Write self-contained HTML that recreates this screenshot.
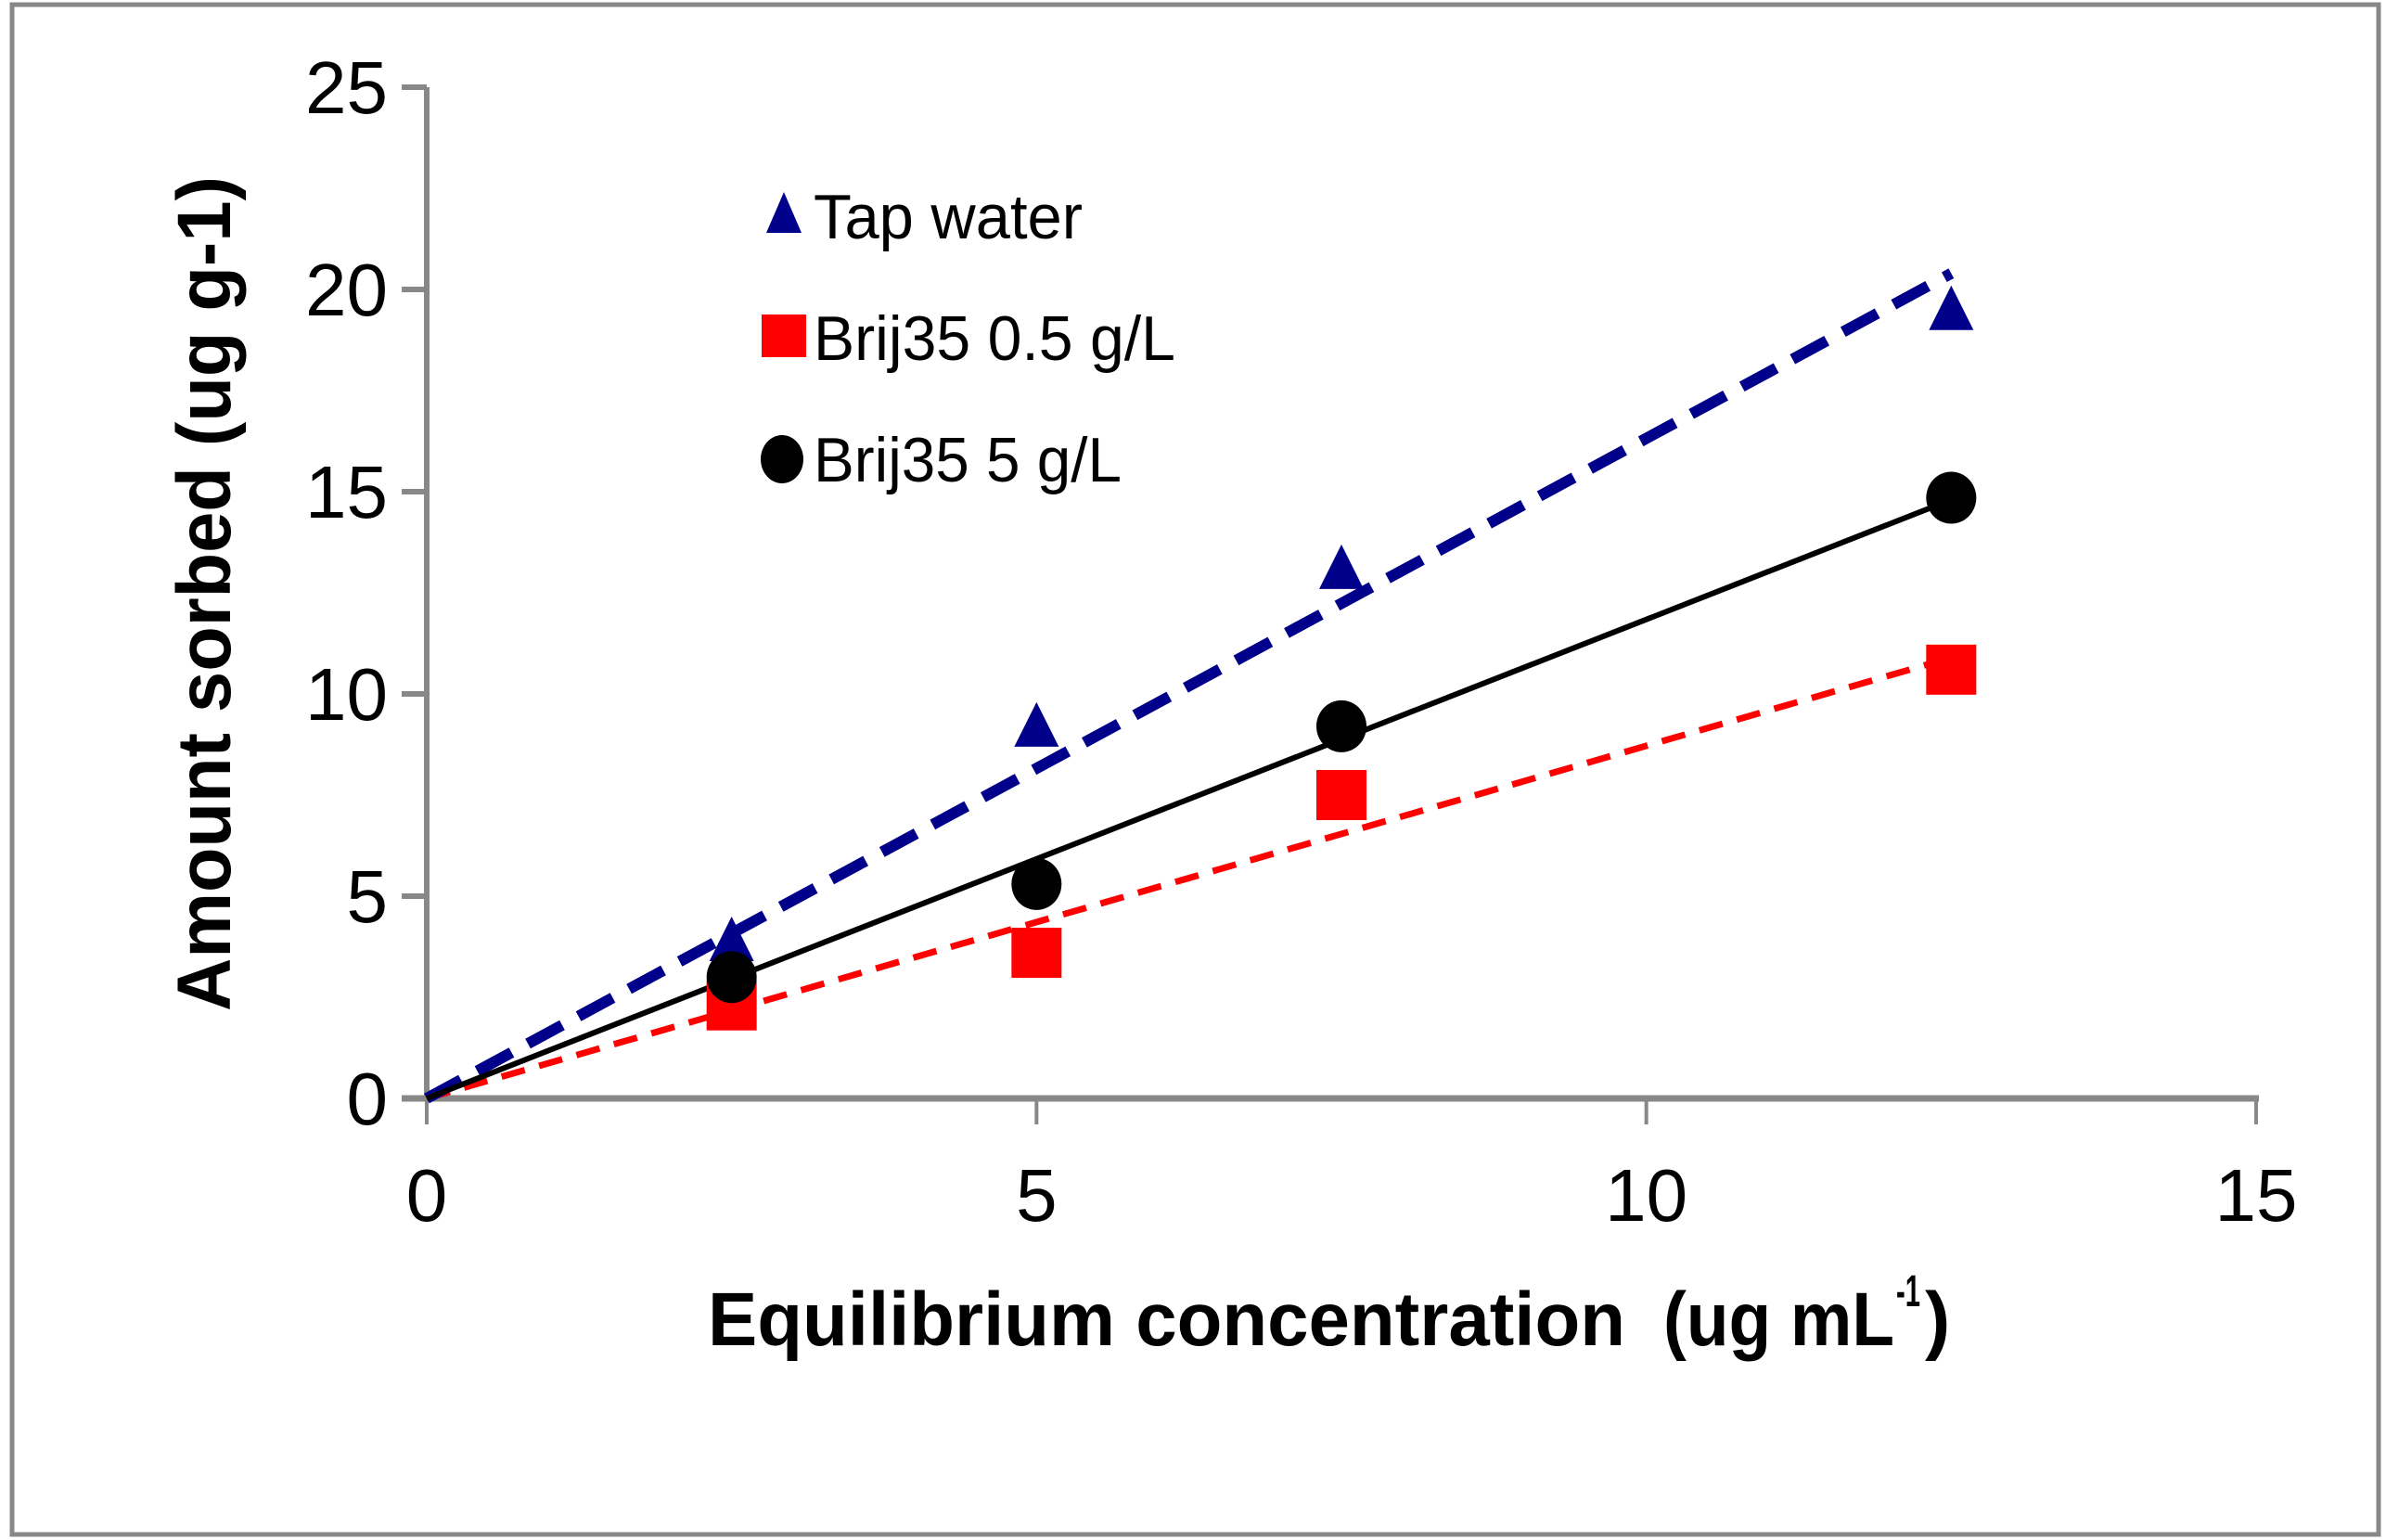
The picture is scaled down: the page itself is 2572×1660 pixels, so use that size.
<!DOCTYPE html>
<html><head><meta charset="utf-8"><style>
html,body{margin:0;padding:0;background:#fff;}
svg{display:block;font-family:"Liberation Sans",sans-serif;}
</style></head><body>
<svg id="chart" width="2572" height="1660" viewBox="0 0 2572 1660">
<rect x="13" y="5" width="2551" height="1649" fill="#fff" stroke="#888" stroke-width="5"/>
<g id="axes"></g>
<g id="series"></g>
<g id="legend">
  <polygon points="845,207 826,251 864,251" fill="#00008b"/>
  <text x="877" y="257" font-size="68" font-family="'Liberation Sans Narrow','Liberation Sans',sans-serif" textLength="290" lengthAdjust="spacingAndGlyphs">Tap water</text>
  <rect x="821" y="339" width="48" height="46" fill="#f00"/>
  <text x="877" y="388" font-size="68" font-family="'Liberation Sans Narrow','Liberation Sans',sans-serif" textLength="390" lengthAdjust="spacingAndGlyphs">Brij35 0.5 g/L</text>
  <ellipse cx="843" cy="495" rx="23" ry="26" fill="#000"/>
  <text x="877" y="519" font-size="68" font-family="'Liberation Sans Narrow','Liberation Sans',sans-serif" textLength="332" lengthAdjust="spacingAndGlyphs">Brij35 5 g/L</text>
</g>
<text transform="translate(248,640) rotate(-90)" text-anchor="middle" font-size="82" font-weight="bold" textLength="900" lengthAdjust="spacingAndGlyphs">Amount sorbed (ug g-1)</text>
<g font-family="'Liberation Sans Narrow','Liberation Sans',sans-serif" font-weight="bold">
  <text x="763" y="1450" font-size="82" textLength="989" lengthAdjust="spacingAndGlyphs">Equilibrium concentration</text>
  <text x="1793" y="1450" font-size="82" textLength="249" lengthAdjust="spacingAndGlyphs">(ug mL</text>
  <text x="2044" y="1408" font-size="48" textLength="26" lengthAdjust="spacingAndGlyphs">-1</text>
  <text x="2075" y="1450" font-size="82">)</text>
</g>
</svg>
<script>
const xTicks = [0, 5, 10, 15];
const yTicks = [0, 5, 10, 15, 20, 25];
const xVals = [2.5, 5, 7.5, 12.5];
const tapWater = [3.9, 9.2, 13.1, 19.5];
const brijLow = [2.3, 3.6, 7.5, 10.6];
const brijHigh = [3.0, 5.3, 9.2, 14.85];
const trendEnd = 12.5;

const NS = "http://www.w3.org/2000/svg";
const X0 = 460, X1 = 2432, Y0 = 1184, Y1 = 94;
function sx(v){ return X0 + (v - 0) / 15 * (X1 - X0); }
function sy(v){ return Y0 - (v - 0) / 25 * (Y0 - Y1); }
function mk(tag, attrs, parent){
  const e = document.createElementNS(NS, tag);
  for (const k in attrs) e.setAttribute(k, attrs[k]);
  parent.appendChild(e);
  return e;
}
const axes = document.getElementById('axes');
const series = document.getElementById('series');
const narrow = "'Liberation Sans Narrow','Liberation Sans',sans-serif";

let yAxis = mk('line', {x1:X0, y1:Y1, x2:X0, y2:Y0, stroke:'#888', 'stroke-width':6}, axes);


let xAxis = mk('line', {x1:X0-27, y1:Y0, x2:X1+3, y2:Y0, stroke:'#888', 'stroke-width':7}, axes);



yTicks.forEach(v => {
  const t = mk('line', {x1:X0-27, y1:sy(v), x2:X0, y2:sy(v), stroke:'#888', 'stroke-width':6}, axes);
  
  
  const l = mk('text', {x:X0-42, y:sy(v)+28, 'text-anchor':'end', 'font-size':80, 'font-family':narrow}, axes);
  l.textContent = v;
  
  
});
xTicks.forEach(v => {
  const t = mk('line', {x1:sx(v), y1:Y0, x2:sx(v), y2:Y0+28, stroke:'#888', 'stroke-width':4}, axes);
  
  
  const l = mk('text', {x:sx(v), y:Y0+132, 'text-anchor':'middle', 'font-size':80, 'font-family':narrow}, axes);
  l.textContent = v;
  
  
});

function slope(ys){
  let sxy = 0, sxx = 0;
  xVals.forEach((x,i) => { sxy += x*ys[i]; sxx += x*x; });
  return sxy / sxx;
}
function trend(ys, color, w, dash, name){
  const m = slope(ys);
  const l = mk('line', {x1:sx(0), y1:sy(0), x2:sx(trendEnd), y2:sy(m*trendEnd), stroke:color, 'stroke-width':w, 'stroke-dasharray':dash}, series);
  
  
}
trend(brijLow, '#f00', 7, '26,16', 'trendline-brij35-0-5');
trend(tapWater, '#00008b', 12, '42,20', 'trendline-tap-water');
trend(brijHigh, '#000', 6, '', 'trendline-brij35-5');

xVals.forEach((x,i) => {
  const cx = sx(x), cy = sy(brijLow[i]);
  const r = mk('rect', {x:cx-27, y:cy-27, width:54, height:54, fill:'#f00'}, series);
  
  
});
xVals.forEach((x,i) => {
  const cx = sx(x), cy = sy(tapWater[i]);
  const p = mk('polygon', {points:`${cx},${cy-26} ${cx-24},${cy+22} ${cx+24},${cy+22}`, fill:'#00008b'}, series);
  
  
});
xVals.forEach((x,i) => {
  const c = mk('ellipse', {cx:sx(x), cy:sy(brijHigh[i]), rx:27, ry:28, fill:'#000'}, series);
  
  
});
</script>
</body></html>
